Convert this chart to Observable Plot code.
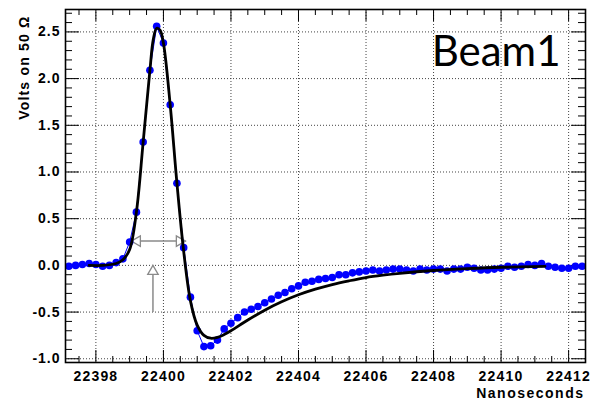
<!DOCTYPE html>
<html><head><meta charset="utf-8">
<script src="https://cdn.jsdelivr.net/npm/d3@7"></script>
<script src="https://cdn.jsdelivr.net/npm/@observablehq/plot@0.6"></script>
<style>
body{margin:0;background:#fff;}
#chart{width:590px;height:399px;}
svg [aria-label="x-axis tick label"] text{letter-spacing:1.2px;}
svg [aria-label="y-axis tick label"] text{letter-spacing:1px;}
</style></head><body><div id="chart"></div>
<script>
// Measured samples (ns, volts)
const times = [22397.2,22397.4,22397.6,22397.8,22398.0,22398.2,22398.4,22398.6,22398.8,22399.0,
22399.2,22399.4,22399.6,22399.8,22400.0,22400.2,22400.4,22400.6,22400.8,22401.0,
22401.2,22401.4,22401.6,22401.8,22402.0,22402.2,22402.4,22402.6,22402.8,22403.0,
22403.2,22403.4,22403.6,22403.8,22404.0,22404.2,22404.4,22404.6,22404.8,22405.0,
22405.2,22405.4,22405.6,22405.8,22406.0,22406.2,22406.4,22406.6,22406.8,22407.0,
22407.2,22407.4,22407.6,22407.8,22408.0,22408.2,22408.4,22408.6,22408.8,22409.0,
22409.2,22409.4,22409.6,22409.8,22410.0,22410.2,22410.4,22410.6,22410.8,22411.0,
22411.2,22411.4,22411.6,22411.8,22412.0,22412.2,22412.4];
const volts = [-0.01,0.00,0.01,0.02,0.01,-0.01,0.00,0.03,0.07,0.25,
0.57,1.32,2.09,2.56,2.38,1.72,0.88,0.19,-0.34,-0.70,
-0.87,-0.86,-0.80,-0.68,-0.62,-0.56,-0.50,-0.47,-0.44,-0.40,
-0.36,-0.32,-0.29,-0.25,-0.22,-0.18,-0.17,-0.15,-0.14,-0.13,
-0.10,-0.10,-0.08,-0.07,-0.06,-0.05,-0.06,-0.05,-0.04,-0.04,
-0.05,-0.06,-0.04,-0.05,-0.04,-0.04,-0.06,-0.04,-0.04,-0.02,
-0.03,-0.05,-0.05,-0.04,-0.03,-0.01,-0.02,-0.01,0.01,0.00,
0.02,-0.01,-0.02,-0.03,-0.03,-0.01,-0.01];

// Fit curve
const fitTimes = [22397.8,22398.2,22398.6,22398.8,22399.0,22399.2,22399.4,22399.6,22399.7,22399.8,
22399.9,22400.0,22400.2,22400.4,22400.6,22400.8,22401.0,22401.2,22401.4,22401.6,
22401.8,22402.0,22402.5,22403.0,22403.5,22404.0,22404.5,22405.0,22405.5,22406.0,
22406.5,22407.0,22408.0,22409.0,22410.0,22411.3];
const fitVolts = [0.00,0.00,0.02,0.06,0.17,0.57,1.32,2.09,2.42,2.54,
2.52,2.38,1.72,0.88,0.15,-0.38,-0.64,-0.75,-0.78,-0.77,
-0.74,-0.70,-0.585,-0.48,-0.39,-0.315,-0.255,-0.205,-0.165,-0.13,
-0.105,-0.085,-0.055,-0.035,-0.02,-0.01];

// Axis ticks
const xMajor = [22398,22400,22402,22404,22406,22408,22410,22412];
const yMajor = [-1.0,-0.5,0.0,0.5,1.0,1.5,2.0,2.5];
const xMinor = d3.range(22397.5, 22412.5, 0.5).filter(v => v % 2 !== 0);
const yMinor = d3.range(-10, 28).map(v => v / 10).filter(v => Math.abs(v * 2 - Math.round(v * 2)) > 1e-9);

// Annotation arrows
const widthArrow = {x1: 22399.05, x2: 22400.65, y: 0.26};
const markArrow = {x: 22399.69, y1: -0.5, y2: 0.0};

const points = times.map((t, i) => ({t, v: volts[i]}));
const fit = fitTimes.map((t, i) => ({t, v: fitVolts[i]}));

const W = 590, H = 399, mL = 65, mR = 5, mT = 9, mB = 37;
const fw = W - mL - mR, fh = H - mT - mB;
const arrowColor = "#8a8a8a";
const headR = 5, headOff = 6;

const chart = Plot.plot({
  width: W, height: H,
  marginLeft: mL, marginRight: mR, marginTop: mT, marginBottom: mB,
  style: {fontFamily: "'Liberation Sans', Arial, sans-serif", fontSize: "14px", fontWeight: "bold", background: "#fff", color: "#000"},
  x: {domain: [22397.1, 22412.5], label: null},
  y: {domain: [-1.04, 2.74], label: null},
  marks: [
    // dotted grid
    Plot.ruleX(xMajor, {stroke: "#444", strokeWidth: 1, strokeDasharray: "1,2"}),
    Plot.ruleY(yMajor, {stroke: "#444", strokeWidth: 1, strokeDasharray: "1,2"}),
    // inward ticks, bottom/top
    Plot.ruleX(xMajor, {stroke: "#000", insetTop: fh - 12}),
    Plot.ruleX(xMajor, {stroke: "#000", insetBottom: fh - 12}),
    Plot.ruleX(xMinor, {stroke: "#000", insetTop: fh - 6}),
    Plot.ruleX(xMinor, {stroke: "#000", insetBottom: fh - 6}),
    // inward ticks, left/right
    Plot.ruleY(yMajor, {stroke: "#000", insetRight: fw - 14}),
    Plot.ruleY(yMajor, {stroke: "#000", insetLeft: fw - 14}),
    Plot.ruleY(yMinor, {stroke: "#000", insetRight: fw - 7}),
    Plot.ruleY(yMinor, {stroke: "#000", insetLeft: fw - 7}),
    // annotation arrows
    Plot.link([widthArrow], {x1: "x1", x2: "x2", y1: "y", y2: "y", stroke: arrowColor, strokeWidth: 1.5}),
    Plot.link([markArrow], {x1: "x", x2: "x", y1: "y1", y2: "y2", stroke: arrowColor, strokeWidth: 1.5}),
    Plot.dot([widthArrow], {x: "x1", y: "y", symbol: "triangle2", r: headR, rotate: -90, dx: headOff, fill: "#fff", stroke: arrowColor, strokeWidth: 1.3}),
    Plot.dot([widthArrow], {x: "x2", y: "y", symbol: "triangle2", r: headR, rotate: 90, dx: -headOff, fill: "#fff", stroke: arrowColor, strokeWidth: 1.3}),
    Plot.dot([markArrow], {x: "x", y: "y2", symbol: "triangle2", r: headR, rotate: 0, dy: headOff, fill: "#fff", stroke: arrowColor, strokeWidth: 1.3}),
    // data
    Plot.line(points, {x: "t", y: "v", stroke: "#0000ff", strokeWidth: 1}),
    Plot.dot(points, {x: "t", y: "v", r: 3.8, fill: "#0000ff", stroke: "none"}),
    // fit
    Plot.line(fit, {x: "t", y: "v", stroke: "#000", strokeWidth: 2.8, curve: "catmull-rom"}),
    // frame
    Plot.frame({stroke: "#000", strokeWidth: 1.6}),
    // axes
    Plot.axisX(xMajor, {tickSize: 0, tickPadding: 9, tickFormat: d => String(d), label: null, fontSize: 14, fontWeight: "bold"}),
    Plot.axisY(yMajor, {tickSize: 0, tickPadding: 5, tickFormat: d => d.toFixed(1), label: null, fontSize: 14, fontWeight: "bold"}),
    // axis titles
    Plot.text(["Nanoseconds"], {text: d => d, frameAnchor: "bottom-right", textAnchor: "end", lineAnchor: "bottom", dx: -1, dy: 35, fontSize: 14, fontWeight: "bold"}),
    Plot.text(["Volts on 50 \u03A9"], {text: d => d, frameAnchor: "top-left", textAnchor: "end", lineAnchor: "middle", rotate: -90, dx: -41, dy: 6, fontSize: 14, fontWeight: "bold"}),
    // label
    Plot.text(["Beam1"], {text: d => d, frameAnchor: "top-right", textAnchor: "end", lineAnchor: "bottom", dx: -25, dy: 56, fontSize: 42, fontWeight: "normal", fontFamily: "Lato, 'Open Sans', sans-serif"})
  ]
});
// stretch the axis titles slightly, like the reference
d3.select(chart).selectAll("text").each(function() {
  const s = this.textContent;
  if (s === "Nanoseconds") this.style.letterSpacing = "1.5px";
  if (s.startsWith("Volts")) this.style.letterSpacing = "1.2px";
});
document.getElementById("chart").appendChild(chart);
</script></body></html>
